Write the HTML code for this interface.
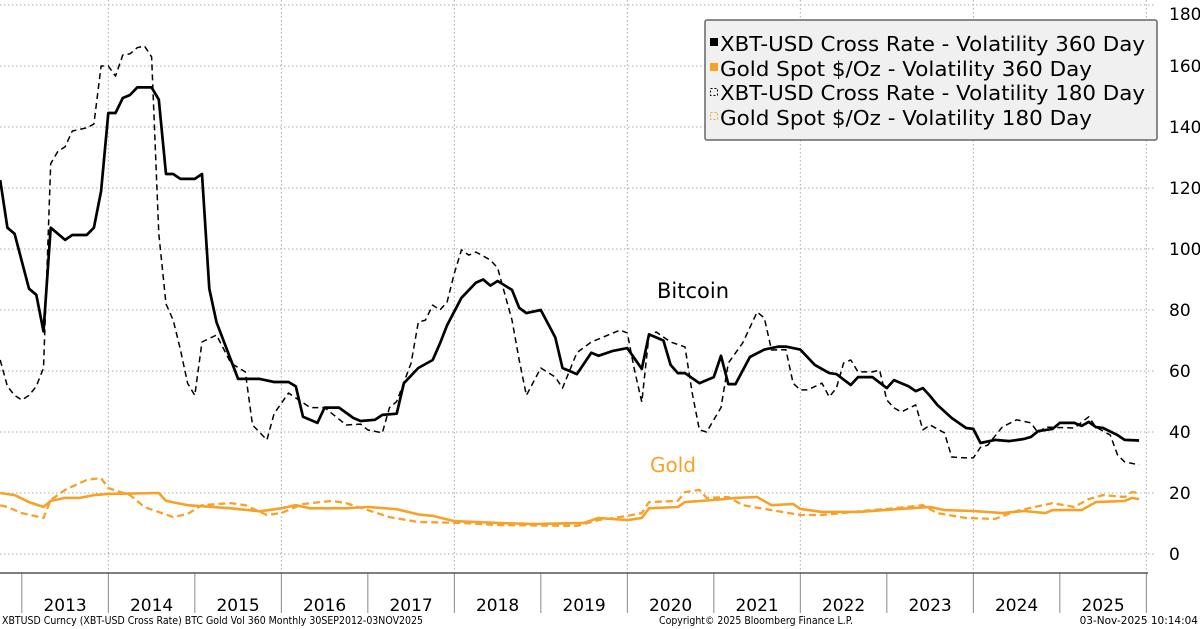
<!DOCTYPE html>
<html><head><meta charset="utf-8"><style>
html,body{margin:0;padding:0;background:#fff;}
svg{display:block;font-family:"DejaVu Sans","Liberation Sans",sans-serif;}
</style></head><body>
<svg id="chart" width="1200" height="629" viewBox="0 0 1200 629" xmlns="http://www.w3.org/2000/svg">
<g id="grid"></g>
<g id="axes"></g>
<g id="series"></g>
<text x="657" y="298" font-size="21" fill="#000">Bitcoin</text>
<text x="650" y="472" font-size="20" fill="#f7a128">Gold</text>
<g>
<rect x="705" y="20" width="452" height="120" rx="2" fill="#f0f0f0" stroke="#666" stroke-width="1.5"/>
<g><rect x="710" y="38" width="8" height="8" fill="#000"/><text x="720" y="51" font-size="20" textLength="425" lengthAdjust="spacingAndGlyphs">XBT-USD Cross Rate - Volatility 360 Day</text></g>
<g><rect x="710" y="63" width="8" height="8" fill="#f7a128"/><text x="720" y="76" font-size="20" textLength="372" lengthAdjust="spacingAndGlyphs">Gold Spot $/Oz - Volatility 360 Day</text></g>
<g><rect x="710.5" y="88.5" width="7" height="7" fill="none" stroke="#000" stroke-dasharray="2,2"/><text x="720" y="100" font-size="20" textLength="425" lengthAdjust="spacingAndGlyphs">XBT-USD Cross Rate - Volatility 180 Day</text></g>
<g><rect x="710.5" y="112.5" width="7" height="7" fill="none" stroke="#f7a128" stroke-dasharray="2,2"/><text x="720" y="125" font-size="20" textLength="372" lengthAdjust="spacingAndGlyphs">Gold Spot $/Oz - Volatility 180 Day</text></g>
</g>
<text x="2" y="624" font-size="10.5" textLength="421" lengthAdjust="spacingAndGlyphs">XBTUSD Curncy (XBT-USD Cross Rate) BTC Gold Vol 360 Monthly 30SEP2012-03NOV2025</text>
<text x="659" y="624" font-size="10.5" textLength="194" lengthAdjust="spacingAndGlyphs">Copyright© 2025 Bloomberg Finance L.P.</text>
<text x="1198" y="624" font-size="10.5" text-anchor="end">03-Nov-2025 10:14:04</text>
</svg>
<script>
// month index: 0 = Sep 2012
const yTicks = [0,20,40,60,80,100,120,140,160,180];
const yearLabels = ["2013","2014","2015","2016","2017","2018","2019","2020","2021","2022","2023","2024","2025"];
const btc360M = [1,2,3,5,6,7,8,10,11,13,14,15,16,17,18,19,20,22,23,24,25,26,28,29,30,31,33,34,37,39,41,42,43,45,46,48,50,51,53,54,56,57,59,61,62,63,65,67,68,69,70,72,73,74,76,78,79,81,83,84,86,88,90,91,93,94,95,96,98,100,101,102,103,105,107,109,110,112,114,116,117,119,120,122,124,125,127,128,129,130,131,133,135,136,137,139,140,141,143,144,145,147,148,150,151,152,153,154,156,157,159];
const btc360V = [122.6,107,105,87,85,73,107,103,104.6,104.6,107,119,144.6,144.6,149.5,150.5,153,153,149,124.6,124.6,123,123,124.6,87,76,63.6,57.4,57.4,56.4,56.4,55,45,43,48,48,44.6,43.6,44,45.6,46,56,61,63.6,69,75,84,89,90,88,89.5,86.6,80.7,79,80,71,61,59,66,65,66.6,67.5,60.7,72,70,62,59.3,59.3,56,58,65,55.7,55.7,64.6,67,68,68,67,62,59.3,59,55.4,58,58,54.4,57,55,53.4,54.4,51.8,48.9,44.6,41.3,41,36.4,37.4,37.2,37,37.7,38.4,40.3,41,43,43,42,43.3,41.6,41.3,39,37.4,37.2];
const btc180M = [1,2,3,4,5,6,7,8,9,10,11,13,14,15,16,17,18,19,20,21,22,23,24,25,26,27,28,29,31,33,35,36,38,39,41,44,46,49,51,52,54,55,56,58,59,60,61,62,63,64,65,66,67,69,70,72,73,74,76,78,79,81,83,87,88,89,90,91,92,94,96,97,98,99,101,102,104,106,107,108,110,111,112,113,115,116,117,118,119,120,122,123,124,125,126,128,129,130,132,133,135,136,137,138,140,142,144,145,146,150,152,153,155,156,157,159];
const btc180V = [63.6,55,52,50.5,52,55,61,128,132,133.5,138.7,139.7,141,160,160,156.7,163.6,164,166,166.6,163,105,82,76.7,67,56,52,69.5,71.8,62.6,59.7,42.3,37.4,46,52.8,48,48,42.3,42.6,40.7,39.7,48,50,62.6,76,76.7,81.6,80,82.6,92,99.7,98,99,96.4,93.8,76.7,63.6,52,61,58,54.4,66,69.5,73.4,72.5,60.3,49.8,71.8,72.8,69.5,67.9,52.8,40.7,40,48,62.6,69.2,79.3,77.4,66.9,67,56,53.8,53.8,56,51.5,54.4,62.6,63.6,59.7,59.7,60.3,50.5,47.9,46.6,48.9,40.7,42.3,39.7,31.8,31.5,31.5,35,35.7,41.6,44,43,39.7,41.6,41.3,45,41.6,39,32.5,30.2,29.2];
const gold360M = [1,3,5,7,8,10,12,14,16,23,24,27,33,37,40,42,44,49,52,56,59,61,64,67,70,75,82,84,88,90,91,95,96,100,103,106,108,111,112,115,120,126,130,132,136,140,143,146,147,151,153,157,158,159];
const gold360V = [20,19.3,17,15.4,17.4,18.4,18.4,19.3,19.7,20,17.4,16,15,14,15,16,15,15,15.4,14.7,13,12.5,10.8,10.5,10.2,9.8,10.2,11.8,11.1,11.8,15,15.4,17,17.7,18.4,18.7,16,16.4,14.8,13.8,13.8,14.8,15.4,14.4,14.1,13.4,14.1,13.4,14.4,14.4,17,17.4,18.4,18];
const gold180M = [1,2,4,7,8,10,13,15,16,19,21,25,27,29,33,35,38,40,43,47,49,52,55,59,65,70,81,84,88,90,91,95,96,98,99,102,104,108,112,115,122,125,129,131,135,139,142,147,150,152,154,157,158,159];
const gold180V = [16,15.4,13.4,11.8,17.7,21,24.3,24.9,21.6,19.3,15.4,12.1,13.1,16,16.7,16,12.8,13.4,16.4,17.4,16.7,14.4,12.1,10.5,10.2,9.5,9.2,11.1,12.5,13.4,17,17.4,20.3,21,18.4,18.7,16,14.4,12.8,12.8,14.4,15,16,13.4,11.8,11.5,14.1,16.7,15.4,18,19.3,18.7,20.3,20];

const NS="http://www.w3.org/2000/svg";
const X0=-7, MW=86.5/12, PLOT_R=1148, AXIS_Y=573;
function xs(m){return X0+m*MW;}
function ys(v){return 554-v*(549/180);}
function mk(tag,attrs,parent){const e=document.createElementNS(NS,tag);for(const k in attrs)e.setAttribute(k,attrs[k]);parent.appendChild(e);return e;}
const grid=document.getElementById('grid'), axes=document.getElementById('axes'), ser=document.getElementById('series');
yTicks.forEach(v=>{
  const l=mk('line',{x1:0,x2:PLOT_R+8,y1:ys(v),y2:ys(v),stroke:'#aaa','stroke-width':1,'stroke-dasharray':'1.5,2.5'},grid);
  
  
  const t=mk('text',{x:1169,y:Math.max(ys(v)+6,20),'font-size':17,fill:'#000'},axes);
  t.textContent=v;
  
  
});
for(let i=0;i<=yearLabels.length;i++){
  const m=4+i*12, x=xs(m);
  const tk=mk('line',{x1:x,x2:x,y1:AXIS_Y,y2:613,stroke:'#888','stroke-width':1},axes);
  
  
  if(i%2===1){
    const g=mk('line',{x1:x,x2:x,y1:0,y2:AXIS_Y,stroke:'#aaa','stroke-width':1,'stroke-dasharray':'1.5,2.5'},grid);
    
    
  }
  if(i<yearLabels.length){
    const t=mk('text',{x:xs(m+6),y:611,'font-size':17,'text-anchor':'middle'},axes);
    t.textContent=yearLabels[i];
    
    
  }
}
const ax=mk('line',{x1:0,x2:PLOT_R,y1:AXIS_Y,y2:AXIS_Y,stroke:'#555','stroke-width':1.5},axes);


function line(M,V,color,w,dash,name){
  const d=M.map((m,i)=>(i?'L':'M')+xs(m).toFixed(1)+','+ys(V[i]).toFixed(1)).join('');
  const p=mk('path',{d:d,fill:'none',stroke:color,'stroke-width':w,'stroke-linejoin':'round'},ser);
  if(dash)p.setAttribute('stroke-dasharray',dash);
  
  
}
line(gold180M,gold180V,'#f7a128',2.3,'7,4','gold-180-line');
line(gold360M,gold360V,'#f7a128',2.6,null,'gold-360-line');
line(btc180M,btc180V,'#000',1.5,'6,4','btc-180-line');
line(btc360M,btc360V,'#000',2.7,null,'btc-360-line');
</script>
</body></html>
